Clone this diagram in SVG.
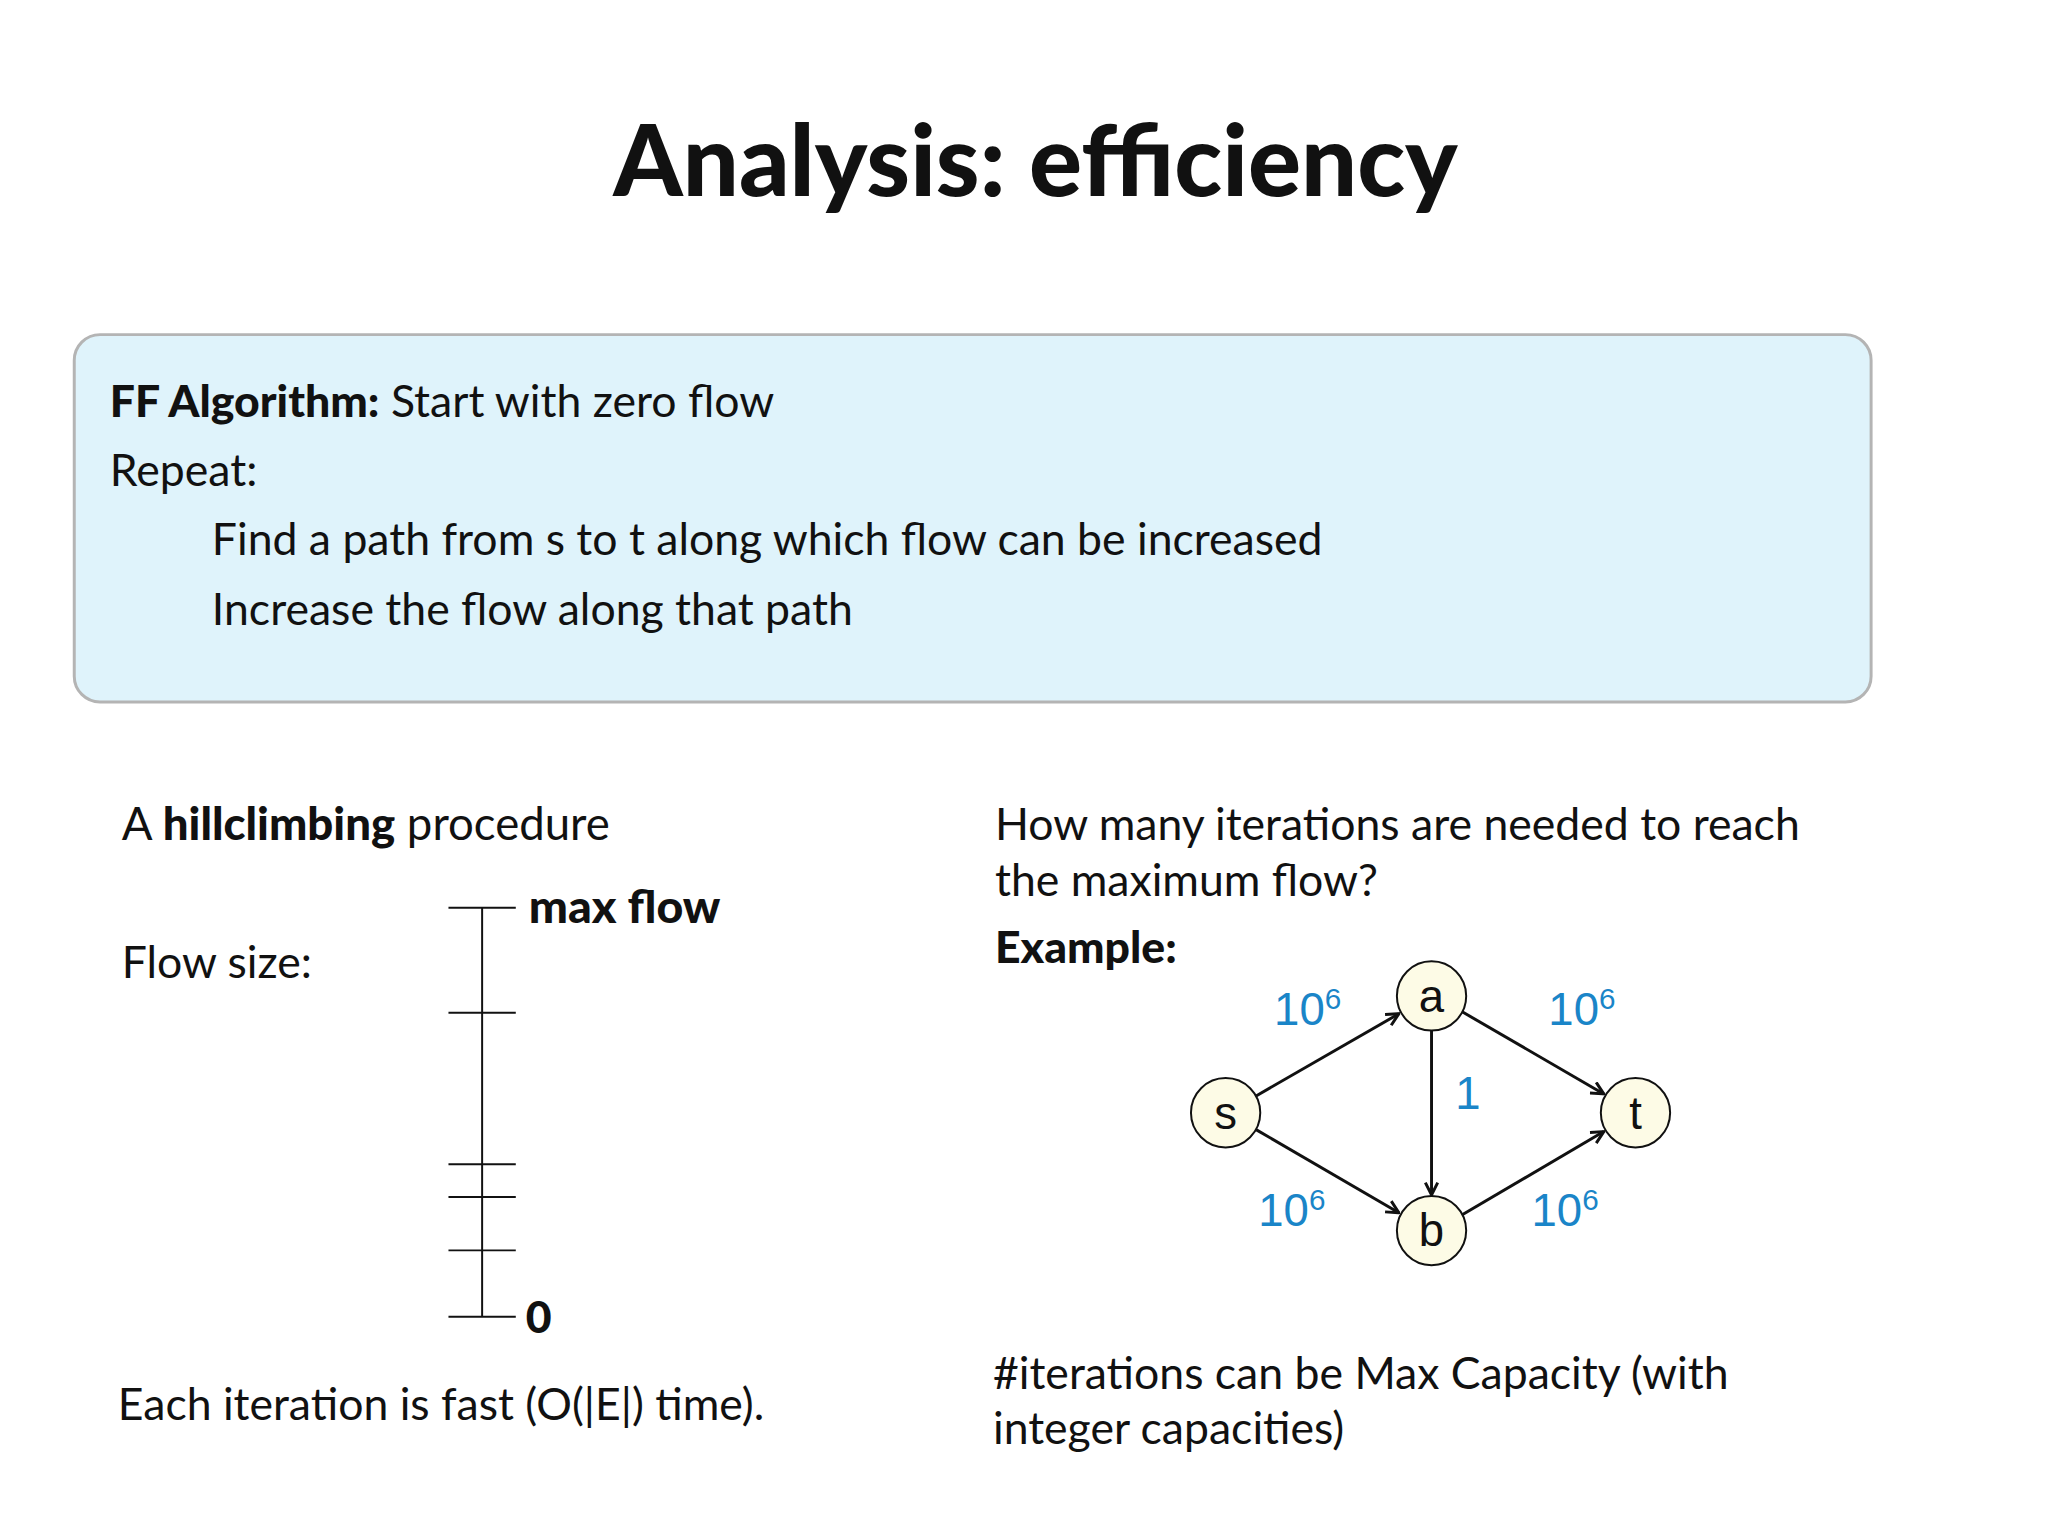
<svg xmlns="http://www.w3.org/2000/svg" width="2048" height="1536" viewBox="0 0 2048 1536">
<style>
.t{font-family:Lato,"Open Sans","Liberation Sans",sans-serif;fill:#111}
.b{font-weight:bold}
.k{font-weight:900}
.n{font-family:"Liberation Sans",Arial,sans-serif;font-size:46px;text-anchor:middle;fill:#111}
.c{font-family:"Liberation Sans",Arial,sans-serif;font-size:46px;fill:#1a85c8}
.node{fill:#fdfbe6;stroke:#111;stroke-width:2}
.e{stroke:#111;stroke-width:3;fill:none;marker-end:url(#ah)}
.tick{stroke:#111;stroke-width:2}
</style>
<defs><marker id="ah" viewBox="0 0 12 12" refX="11" refY="6" markerWidth="5" markerHeight="5" orient="auto" markerUnits="strokeWidth"><path d="M1,1 L11,6 L1,11" fill="none" stroke="#111" stroke-width="2.4"/></marker></defs>
<rect width="2048" height="1536" fill="#fff"/>
<g transform="scale(0.99)">
<text class="t k" x="1046" y="198" font-size="100" text-anchor="middle">Analysis: efficiency</text>
<g id="box">
<rect x="75" y="338" width="1815" height="371" rx="26" fill="#dff3fb" stroke="#b4b4b4" stroke-width="3"/>
<text class="t" x="111" y="421" font-size="45"><tspan class="k">FF Algorithm:</tspan> Start with zero flow</text>
<text class="t" x="111" y="491" font-size="45">Repeat:</text>
<text class="t" x="214" y="561" font-size="45">Find a path from s to t along which flow can be increased</text>
<text class="t" x="214" y="631" font-size="45">Increase the flow along that path</text>
</g>
<text class="t" x="123" y="848" font-size="46">A <tspan class="k">hillclimbing</tspan> procedure</text>
<text class="t" x="123" y="988" font-size="45">Flow size:</text>
<g id="scale">
<line class="tick" x1="487" y1="917" x2="487" y2="1330" stroke-width="3"/>
<line class="tick" x1="453" y1="917" x2="521" y2="917"/>
<line class="tick" x1="453" y1="1023" x2="521" y2="1023"/>
<line class="tick" x1="453" y1="1176" x2="521" y2="1176"/>
<line class="tick" x1="453" y1="1209" x2="521" y2="1209"/>
<line class="tick" x1="453" y1="1263" x2="521" y2="1263"/>
<line class="tick" x1="453" y1="1330" x2="521" y2="1330"/>
<text class="t k" x="534" y="932" font-size="47">max flow</text>
<text class="t k" x="531" y="1346" font-size="45">0</text>
</g>
<text class="t" x="119" y="1434" font-size="45">Each iteration is fast (O(|E|) time).</text>
<text class="t" x="1005" y="848" font-size="45">How many iterations are needed to reach</text>
<text class="t" x="1005" y="905" font-size="45">the maximum flow?</text>
<text class="t k" x="1005" y="973" font-size="45">Example:</text>
<g id="edges">
<line class="e" x1="1267" y1="1108" x2="1413" y2="1024"/>
<line class="e" x1="1267" y1="1140" x2="1413" y2="1225"/>
<line class="e" x1="1477" y1="1022" x2="1620" y2="1105"/>
<line class="e" x1="1477" y1="1227" x2="1620" y2="1143"/>
<line class="e" x1="1446" y1="1041" x2="1446" y2="1207"/>
</g>
<g id="labels">
<text class="c" x="1287" y="1035">10<tspan font-size="30" dy="-16">6</tspan></text>
<text class="c" x="1564" y="1035">10<tspan font-size="30" dy="-16">6</tspan></text>
<text class="c" x="1271" y="1238">10<tspan font-size="30" dy="-16">6</tspan></text>
<text class="c" x="1547" y="1238">10<tspan font-size="30" dy="-16">6</tspan></text>
<text class="c" x="1470" y="1120">1</text>
</g>
<g id="node-a"><circle class="node" cx="1446" cy="1006" r="35"/><text class="n" x="1446" y="1022">a</text></g>
<g id="node-s"><circle class="node" cx="1238" cy="1124" r="35"/><text class="n" x="1238" y="1140">s</text></g>
<g id="node-t"><circle class="node" cx="1652" cy="1124" r="35"/><text class="n" x="1652" y="1140">t</text></g>
<g id="node-b"><circle class="node" cx="1446" cy="1243" r="35"/><text class="n" x="1446" y="1259">b</text></g>
<text class="t" x="1003" y="1403" font-size="45">#iterations can be Max Capacity (with</text>
<text class="t" x="1003" y="1459" font-size="45">integer capacities)</text>
</g>
</svg>
